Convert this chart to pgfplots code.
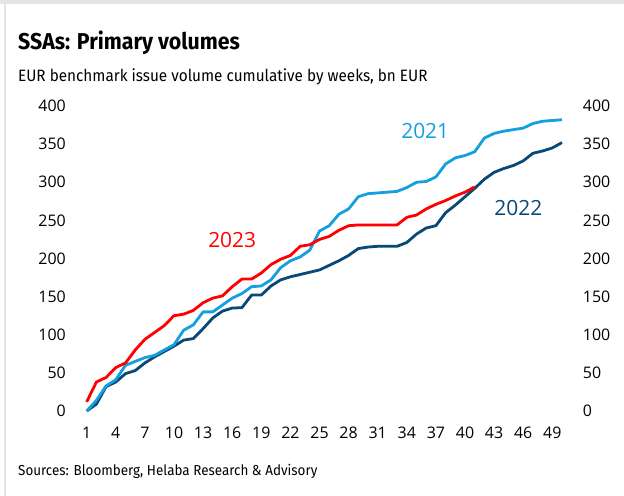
\documentclass[border=0pt]{standalone}
\usepackage{pgfplots}
\pgfplotsset{compat=1.18}
\usepackage{fontspec}
\setmainfont{Fira Sans}[FakeStretch=0.93]
\newfontfamily\chartfont{Open Sans}
\definecolor{lightb}{RGB}{20,160,222}
\definecolor{darkb}{RGB}{10,72,118}
\definecolor{framegray}{RGB}{228,228,228}
\begin{document}
\begin{tikzpicture}
\useasboundingbox (0,0) rectangle (624bp,496bp);
\fill[white] (0,0) rectangle (624bp,496bp);
\fill[framegray] (0,492bp) rectangle (624bp,496bp);
\fill[framegray] (3.5bp,0) rectangle (6bp,496bp);
\node[anchor=base west, inner sep=0pt, font=\fontsize{23}{23}\selectfont\bfseries] at (18bp,446bp) {SSAs: Primary volumes};
\node[anchor=base west, inner sep=0pt, font=\fontsize{16.5}{16.5}\selectfont] at (18bp,414bp) {EUR benchmark issue volume cumulative by weeks, bn EUR};
\node[anchor=base west, inner sep=0pt, font=\fontsize{14.5}{14.5}\selectfont] at (18bp,21bp) {Sources: Bloomberg, Helaba Research \& Advisory};
\begin{axis}[
  at={(77bp,85bp)}, anchor=south west,
  scale only axis, width=494.7bp, height=305bp,
  xmin=0, xmax=51, ymin=0, ymax=400,
  clip=false,
  axis line style={draw=none}, tick style={draw=none},
  xtick={1,4,...,49}, ytick={0,50,...,400},
  /pgf/number format/assume math mode=true,
  tick label style={font=\chartfont\fontsize{16}{16}\selectfont, inner sep=0pt},
  yticklabel style={anchor=east, xshift=-11bp},
  xticklabel style={anchor=north, yshift=-15.5bp},
  line join=round,
]
\addplot[darkb, line width=2.8bp, mark=none] coordinates {
(1,0) (2,9) (3,32) (4,38) (5,49) (6,53) (7,63) (8,71) (9,78) (10,85)
(11,93) (12,95) (13,108) (14,122) (15,131) (16,135) (17,135.5) (18,152) (19,152) (20,164)
(21,172) (22,176) (23,179) (24,182) (25,185) (26,191) (27,197) (28,204) (29,213) (30,215)
(31,216) (32,216) (33,216) (34,221) (35,232) (36,240) (37,243) (38,260) (39,270) (40,281)
(41,292) (42,304) (43,313) (44,318) (45,322) (46,328) (47,338) (48,341) (49,345) (50,352)
};
\addplot[lightb, line width=2.8bp, mark=none] coordinates {
(1,0) (2,14) (3,33) (4,41) (5,60) (6,65) (7,70) (8,73) (9,80) (10,87)
(11,106) (12,113) (13,130) (14,130) (15,139) (16,148) (17,154) (18,163) (19,164) (20,172)
(21,188) (22,197) (23,202) (24,211) (25,236) (26,243) (27,258) (28,265) (29,281) (30,285)
(31,286) (32,287) (33,288) (34,293) (35,300) (36,301) (37,307) (38,324) (39,332) (40,335)
(41,340) (42,358) (43,364) (44,367) (45,369) (46,371) (47,377) (48,380) (49,381) (50,382)
};
\addplot[red, line width=2.8bp, mark=none] coordinates {
(1,12) (2,38) (3,44) (4,57) (5,63) (6,80) (7,94) (8,103) (9,112) (10,125)
(11,127) (12,132) (13,142) (14,148) (15,151) (16,163) (17,173) (18,173) (19,181) (20,192)
(21,199) (22,204) (23,216) (24,218) (25,225) (26,229) (27,237) (28,243) (29,244) (30,244)
(31,244) (32,244) (33,244) (34,254) (35,257) (36,265) (37,271) (38,276) (39,282) (40,287)
(41,294)
};
\node[red, font=\chartfont\fontsize{21}{21}\selectfont] at (axis cs:16,224) {2023};
\node[lightb, font=\chartfont\fontsize{21}{21}\selectfont] at (axis cs:35.9,367) {2021};
\node[darkb, font=\chartfont\fontsize{21}{21}\selectfont] at (axis cs:45.5,266) {2022};
\end{axis}
\begin{axis}[
  at={(77bp,85bp)}, anchor=south west,
  scale only axis, width=494.7bp, height=305bp,
  xmin=0, xmax=51, ymin=0, ymax=400,
  axis line style={draw=none}, tick style={draw=none},
  xtick=\empty, ytick={0,50,...,400},
  yticklabel pos=right,
  /pgf/number format/assume math mode=true,
  tick label style={font=\chartfont\fontsize{16}{16}\selectfont, inner sep=0pt},
  yticklabel style={anchor=west, xshift=11bp},
]
\end{axis}
\end{tikzpicture}
\end{document}
